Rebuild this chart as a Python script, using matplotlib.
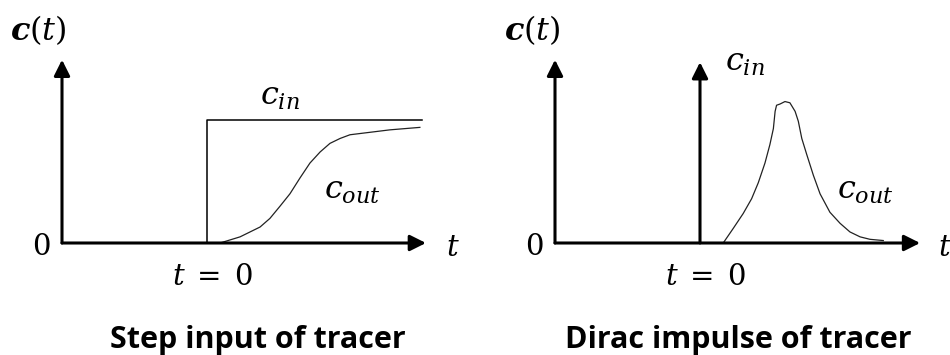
import matplotlib.pyplot as plt
import numpy as np

plt.rcParams['mathtext.fontset'] = 'dejavuserif'

# entrada em degrau: c_in constante a partir de t = 0
t_step_in = [0.0, 0.0, 7.4]
c_step_in = [0.0, 1.0, 1.0]

# resposta na saída ao degrau
t_step_out = [0.45, 1.14, 1.83, 2.17, 2.52, 2.86, 3.21, 3.55, 3.90, 4.24, 4.59, 4.93, 5.62, 6.31, 7.34]
c_step_out = [0.0, 0.05, 0.13, 0.20, 0.30, 0.40, 0.53, 0.65, 0.74, 0.81, 0.85, 0.88, 0.90, 0.92, 0.94]

# resposta na saída ao impulso de Dirac
t_pulse_out = [0.83, 1.15, 1.49, 1.78, 2.01, 2.24, 2.41, 2.53, 2.59, 2.64, 2.76, 2.93, 3.10,
               3.28, 3.39, 3.51, 3.68, 3.91, 4.14, 4.48, 4.83, 5.17, 5.52, 5.86, 6.32]
c_pulse_out = [0.01, 0.12, 0.24, 0.36, 0.49, 0.65, 0.80, 0.93, 1.07, 1.12, 1.13, 1.15, 1.14,
               1.07, 0.99, 0.85, 0.72, 0.55, 0.40, 0.25, 0.16, 0.09, 0.05, 0.03, 0.02]

titulos = ["Step input of tracer", "Dirac impulse of tracer"]

fig = plt.figure(figsize=(9.5, 3.55), dpi=100)
ax1 = fig.add_axes([0, 0, 0.5, 1])
ax2 = fig.add_axes([0.5, 0, 0.5, 1])

seta = dict(arrowstyle='-|>,head_length=0.6,head_width=0.3', mutation_scale=16,
            lw=2.2, color='black', shrinkA=0, shrinkB=0)
fs = 21
fs_c = 23


def eixos(ax, x_tip, titulo, x_t, x_title):
    ax.annotate('', xy=(-5.0, 1.49), xytext=(-5.0, 0), arrowprops=seta)
    ax.annotate('', xy=(x_tip, 0), xytext=(-5.0, 0), arrowprops=seta)
    ax.text(-5.72, -0.03, '$0$', fontsize=fs, ha='center', va='center')
    ax.text(x_t, -0.04, '$t$', fontsize=fs, ha='center', va='center')
    ax.text(0.19, -0.28, '$t\\;=\\;0$', fontsize=fs, ha='center', va='center')
    ax.text(x_title, -0.79, titulo, fontsize=22, fontweight='bold', family='Open Sans',
            ha='center', va='center')


# Gráfico 1 - degrau
ax1.set_xlim((0 - 207) / 29, (475 - 207) / 29)
ax1.set_ylim((243 - 355) / 123, 243 / 123)
ax1.plot(t_step_in, c_step_in, color='black', lw=1.1)
ax1.plot(t_step_out, c_step_out, color='#222222', lw=0.9)
eixos(ax1, 7.55, titulos[0], 8.48, 1.76)
ax1.text(-5.83, 1.73, '$\\boldsymbol{c}(t)$', fontsize=fs_c, ha='center', va='center')
ax1.text(2.52, 1.19, '$c_{in}$', fontsize=fs_c, ha='center', va='center')
ax1.text(5.03, 0.43, '$c_{out}$', fontsize=fs_c, ha='center', va='center')

# Gráfico 2 - impulso
ax2.set_xlim((475 - 700) / 29, (950 - 700) / 29)
ax2.set_ylim((243 - 355) / 123, 243 / 123)
ax2.annotate('', xy=(0, 1.47), xytext=(0, 0), arrowprops=seta)
ax2.plot(t_pulse_out, c_pulse_out, color='#222222', lw=0.9)
eixos(ax2, 7.59, titulos[1], 8.45, 1.31)
ax2.text(-5.79, 1.73, '$\\boldsymbol{c}(t)$', fontsize=fs_c, ha='center', va='center')
ax2.text(1.55, 1.47, '$c_{in}$', fontsize=fs_c, ha='center', va='center')
ax2.text(5.69, 0.43, '$c_{out}$', fontsize=fs_c, ha='center', va='center')

for ax in (ax1, ax2):
    ax.axis('off')

fig.savefig('out.png', dpi=100)
